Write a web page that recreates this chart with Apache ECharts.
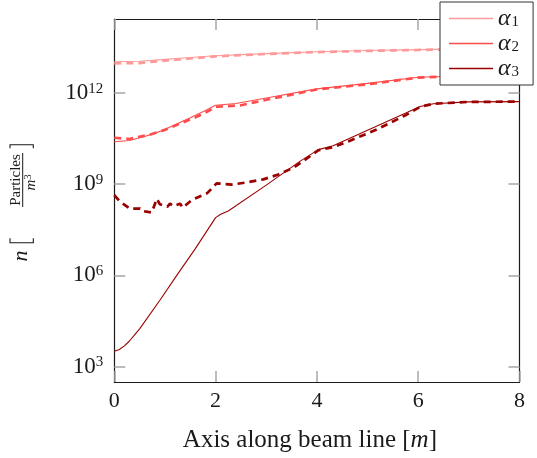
<!DOCTYPE html>
<html><head><meta charset="utf-8">
<script src="https://cdn.jsdelivr.net/npm/echarts@6/dist/echarts.min.js"></script>
<style>html,body{margin:0;padding:0;background:#fff}#c{width:537px;height:458px}</style>
</head><body><div id="c"></div>
<script>
// ---- data ----
const xTickValues = [0, 2, 4, 6, 8];
const yTickValues = [1e3, 1e6, 1e9, 1e12];
const yTickExponents = ['3', '6', '9', '12'];
const legendNames = ['α1', 'α2', 'α3'];
const legendSubs = ['1', '2', '3'];

const a1SolidX = [0, 0.5, 1, 1.5, 2, 3, 4, 5, 6, 7, 8];
const a1SolidN = [1.072e13, 1.122e13, 1.288e13, 1.479e13, 1.698e13, 1.995e13, 2.291e13, 2.512e13, 2.692e13, 2.884e13, 3.090e13];
const a1DashX = [0, 0.5, 1, 1.5, 2, 3, 4, 5, 6, 7, 8];
const a1DashN = [9.55e12, 9.77e12, 1.175e13, 1.380e13, 1.622e13, 1.950e13, 2.239e13, 2.455e13, 2.630e13, 2.818e13, 3.020e13];

const a2SolidX = [0, 0.3, 0.6, 0.9, 1.2, 1.5, 1.8, 2.0, 2.4, 3, 4, 5, 6, 7, 8];
const a2SolidN = [2.512e10, 2.754e10, 3.715e10, 5.495e10, 9.120e10, 1.549e11, 2.692e11, 3.981e11, 4.571e11, 6.918e11, 1.380e12, 2.089e12, 3.311e12, 3.715e12, 3.981e12];
const a2DashX = [0, 0.15, 0.3, 0.45, 0.7, 1.0, 1.3, 1.6, 1.85, 2.0, 2.5, 3.0, 3.5, 4.0, 5.0, 6.0, 7.0, 8.0];
const a2DashN = [3.388e10, 3.236e10, 3.090e10, 3.548e10, 4.266e10, 6.166e10, 1.0e11, 1.585e11, 2.512e11, 3.548e11, 3.981e11, 6.026e11, 8.913e11, 1.318e12, 1.950e12, 3.236e12, 3.715e12, 3.981e12];

const a3SolidX = [0, 0.1, 0.2, 0.3, 0.4, 0.5, 0.9, 1.23, 1.6, 2.0, 2.1, 2.25, 3.0, 3.67, 4.03, 4.32, 5.0, 6.04, 6.3, 7.0, 8.0];
const a3SolidN = [3.162e3, 3.631e3, 4.786e3, 6.918e3, 1.096e4, 1.738e4, 1.514e5, 9.772e5, 7.586e6, 7.943e7, 1.023e8, 1.318e8, 9.333e8, 5.754e9, 1.380e10, 1.862e10, 6.026e10, 3.631e11, 4.467e11, 5.129e11, 5.248e11];
const a3DashX = [0, 0.11, 0.31, 0.51, 0.55, 0.74, 0.84, 0.90, 1.05, 1.10, 1.17, 1.30, 1.35, 1.53, 1.83, 2.02, 2.32, 2.58, 2.94, 3.24, 3.53, 3.77, 4.03, 4.32, 4.62, 5.18, 5.77, 6.04, 6.3, 7.0, 8.0];
const a3DashN = [4.365e8, 2.692e8, 1.585e8, 1.585e8, 1.318e8, 1.175e8, 3.311e8, 2.188e8, 1.820e8, 2.291e8, 1.905e8, 2.291e8, 1.698e8, 3.020e8, 5.012e8, 1.072e9, 9.772e8, 1.122e9, 1.445e9, 2.089e9, 3.467e9, 6.457e9, 1.318e10, 1.660e10, 2.570e10, 6.310e10, 1.950e11, 3.548e11, 4.467e11, 5.129e11, 5.248e11];

// ---- styling ----
const FONT = '"Liberation Serif", "DejaVu Serif", serif';
const colors = ['#ff9a9a', '#ff4d4d', '#9b0000'];
const tickColor = '#a6a6a6';
const axisColor = '#1a1a1a';

function zip(xs, ys) { return xs.map((x, i) => [x, ys[i]]); }

function solid(name, xs, ys, color) {
  return { name, type: 'line', data: zip(xs, ys), symbol: 'none', silent: true,
    lineStyle: { color, width: 1.1 }, itemStyle: { color }, z: 2 };
}
function dashed(name, xs, ys, color) {
  return { name, type: 'line', data: zip(xs, ys), symbol: 'none', silent: true,
    lineStyle: { color, width: 2.7, type: [7, 5], cap: 'butt' }, itemStyle: { color }, z: 3 };
}

const chart = echarts.init(document.getElementById('c'), null, { renderer: 'canvas' });

const yLabelGroup = {
  type: 'group', x: 22.7, y: 200, rotation: Math.PI / 2, silent: true,
  children: [
    { type: 'text', x: -56, y: -1, style: { text: 'n', font: 'italic 22px ' + FONT, fill: axisColor, align: 'center', verticalAlign: 'middle', textAlign: 'center', textVerticalAlign: 'middle' } },
    { type: 'polyline', shape: { points: [[-38.3, -12.7], [-42.7, -12.7], [-42.7, 10.6], [-38.3, 10.6]] }, style: { stroke: axisColor, lineWidth: 1.1, fill: null } },
    { type: 'polyline', shape: { points: [[51.7, -12.7], [55.3, -12.7], [55.3, 10.6], [51.7, 10.6]] }, style: { stroke: axisColor, lineWidth: 1.1, fill: null } },
    { type: 'line', shape: { x1: -7, y1: 0, x2: 47, y2: 0 }, style: { stroke: axisColor, lineWidth: 1 } },
    { type: 'text', x: 20, y: -6.5, style: { text: 'Particles', font: '15px ' + FONT, fill: axisColor, align: 'center', verticalAlign: 'middle', textAlign: 'center', textVerticalAlign: 'middle' } },
    { type: 'text', x: 15, y: 8, style: { text: 'm', font: 'italic 15px ' + FONT, fill: axisColor, align: 'center', verticalAlign: 'middle', textAlign: 'center', textVerticalAlign: 'middle' } },
    { type: 'text', x: 23, y: 5, style: { text: '3', font: '11px ' + FONT, fill: axisColor, align: 'center', verticalAlign: 'middle', textAlign: 'center', textVerticalAlign: 'middle' } }
  ]
};

const option = {
  animation: false,
  backgroundColor: '#fff',
  grid: { left: 114.3, top: 19, width: 405.2, height: 364.3, containLabel: false },
  legend: {
    data: legendNames,
    orient: 'vertical', left: 440, top: 2,
    padding: [4, 14, 4, 9], itemGap: 0, itemWidth: 44, itemHeight: 1.5,
    icon: 'rect',
    backgroundColor: '#fff', borderColor: '#333', borderWidth: 1, borderRadius: 0,
    selectedMode: false,
    formatter: function (name) { return '{a|α}{sub|' + legendSubs[legendNames.indexOf(name)] + '}'; },
    textStyle: {
      fontFamily: FONT, fontSize: 22, color: axisColor, lineHeight: 25,
      rich: {
        a: { fontFamily: FONT, fontSize: 24, fontStyle: 'italic', color: axisColor, lineHeight: 25 },
        sub: { fontFamily: FONT, fontSize: 15, color: axisColor, lineHeight: 25, padding: [7, 0, 0, 1] }
      }
    }
  },
  xAxis: [
    { type: 'value', min: 0, max: 8, interval: 2, position: 'bottom',
      name: 'Axis along beam line [{i|m}]', nameLocation: 'middle', nameGap: 46,
      nameTextStyle: { fontFamily: FONT, fontSize: 25, color: axisColor, padding: [0, 14, 0, 0],
        rich: { i: { fontFamily: FONT, fontSize: 25, fontStyle: 'italic', color: axisColor } } },
      axisLine: { show: true, onZero: false, lineStyle: { color: axisColor, width: 1.2 } },
      axisTick: { show: true, inside: true, length: 11, lineStyle: { color: tickColor, width: 1.5 } },
      axisLabel: { show: true, margin: 8, fontFamily: FONT, fontSize: 22, color: axisColor,
        customValues: xTickValues },
      splitLine: { show: false } },
    { type: 'value', min: 0, max: 8, interval: 2, position: 'top',
      axisLine: { show: true, onZero: false, lineStyle: { color: axisColor, width: 1.2 } },
      axisTick: { show: true, inside: true, length: 11, lineStyle: { color: tickColor, width: 1.5 } },
      axisLabel: { show: false }, splitLine: { show: false } }
  ],
  yAxis: [
    { type: 'log', logBase: 10, min: 3.09e2, max: 2.75e14, position: 'left',
      axisLine: { show: true, onZero: false, lineStyle: { color: axisColor, width: 1.2 } },
      axisTick: { show: true, inside: true, length: 11, lineStyle: { color: tickColor, width: 1.5 }, customValues: yTickValues },
      axisLabel: { show: true, margin: 11, fontFamily: FONT, fontSize: 22, color: axisColor,
        customValues: yTickValues,
        formatter: function (v) { const i = yTickValues.indexOf(v); return '{b|10}{sup|' + (i >= 0 ? yTickExponents[i] : '') + '}'; },
        rich: {
          b: { fontFamily: FONT, fontSize: 23, color: axisColor, lineHeight: 24 },
          sup: { fontFamily: FONT, fontSize: 15, color: axisColor, lineHeight: 24, padding: [0, 0, 9, 0] }
        } },
      splitLine: { show: false } },
    { type: 'log', logBase: 10, min: 3.09e2, max: 2.75e14, position: 'right',
      axisLine: { show: true, onZero: false, lineStyle: { color: axisColor, width: 1.2 } },
      axisTick: { show: true, inside: true, length: 11, lineStyle: { color: tickColor, width: 1.5 }, customValues: yTickValues },
      axisLabel: { show: false }, splitLine: { show: false } }
  ],
  series: [
    solid('α1', a1SolidX, a1SolidN, colors[0]),
    solid('α2', a2SolidX, a2SolidN, colors[1]),
    solid('α3', a3SolidX, a3SolidN, colors[2]),
    dashed('α1 dashed', a1DashX, a1DashN, colors[0]),
    dashed('α2 dashed', a2DashX, a2DashN, colors[1]),
    dashed('α3 dashed', a3DashX, a3DashN, colors[2])
  ],
  graphic: { elements: [yLabelGroup] }
};
chart.setOption(option);
</script></body></html>
